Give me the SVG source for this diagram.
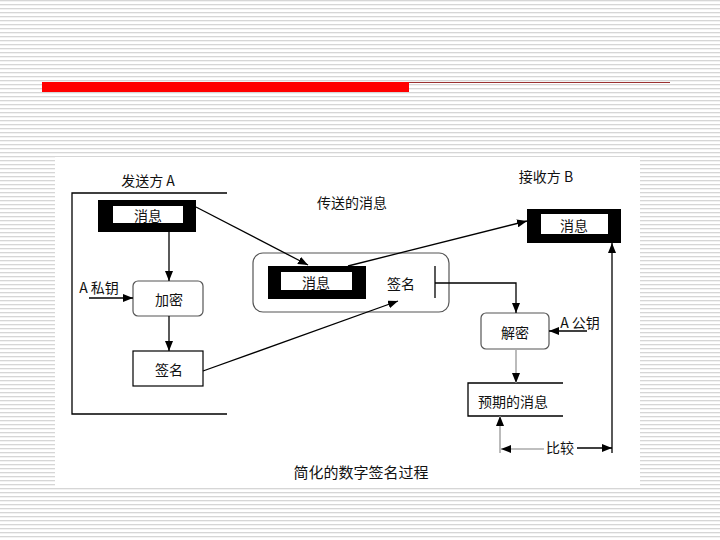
<svg xmlns="http://www.w3.org/2000/svg" width="720" height="540" viewBox="0 0 720 540">
<defs>
<pattern id="stripes" width="720" height="4" patternUnits="userSpaceOnUse">
<rect width="720" height="4" fill="#ffffff"/>
<rect width="720" height="1.3" fill="#d6d6d6"/>
</pattern>
<marker id="ah" markerWidth="10" markerHeight="8" refX="10" refY="4" orient="auto" markerUnits="userSpaceOnUse">
<path d="M0,0 L10,4 L0,8 Z" fill="#000"/>
</marker>
<style>
.t{font-family:"Noto Sans CJK SC","Liberation Sans",sans-serif;font-size:14px;fill:#111;text-anchor:middle;dominant-baseline:central}
.c{fill:none;stroke:#000;stroke-width:1.3}
.g{fill:none;stroke:#aaa;stroke-width:1.6}
.blk{fill:#000}
.wht{fill:#fff}
.rb{fill:#fff;stroke:#555;stroke-width:1.2}
.box{fill:#fff;stroke:#000;stroke-width:1.2}
</style>
</defs>
<rect width="720" height="540" fill="url(#stripes)"/>
<rect x="42" y="82" width="367" height="10" fill="#ff0000"/>
<line x1="409" y1="82.5" x2="670" y2="82.5" stroke="#9a3030" stroke-width="1"/>
<rect x="55" y="157" width="585" height="330" fill="#fff"/>

<g id="frameA">
<text class="t" x="148" y="180">发送方 A</text>
<polyline class="c" points="227,193 72,193 72,414 227,414"/>
</g>
<g id="msgA">
<rect class="blk" x="98" y="200" width="98" height="32"/>
<rect class="wht" x="113" y="206" width="70" height="17"/>
<text class="t" x="148" y="215">消息</text>
</g>
<g id="encrypt">
<rect class="rb" x="133" y="281" width="70" height="35" rx="5"/>
<text class="t" x="169" y="299">加密</text>
</g>
<g id="privkey">
<text class="t" x="99" y="287">A 私钥</text>
</g>
<g id="sig">
<rect class="box" x="133" y="351" width="70" height="35"/>
<text class="t" x="169" y="369">签名</text>
</g>

<g id="transmitted">
<text class="t" x="352" y="202">传送的消息</text>
<rect class="rb" x="253" y="253" width="196" height="59" rx="10"/>
<rect class="blk" x="268" y="266" width="98" height="33"/>
<rect class="wht" x="281" y="272" width="71" height="18"/>
<text class="t" x="316" y="282">消息</text>
<text class="t" x="401" y="283">签名</text>
<line class="c" x1="435" y1="266" x2="435" y2="298"/>
</g>

<g id="frameB">
<text class="t" x="546" y="176">接收方 B</text>
</g>
<g id="msgB">
<rect class="blk" x="527" y="209" width="94" height="34"/>
<rect class="wht" x="541" y="214" width="67" height="20"/>
<text class="t" x="574" y="225">消息</text>
</g>
<g id="decrypt">
<rect class="rb" x="481" y="313" width="68" height="36" rx="5"/>
<text class="t" x="515" y="332">解密</text>
</g>
<g id="pubkey">
<text class="t" x="580" y="322">A 公钥</text>
</g>
<g id="expected">
<polyline class="c" points="563,383 468,383 468,416 563,416"/>
<text class="t" x="513" y="401">预期的消息</text>
</g>
<g id="compare">
<text class="t" x="560" y="447">比较</text>
</g>
<g id="caption">
<text class="t" x="361" y="471" style="font-size:15px">简化的数字签名过程</text>
</g>

<g id="connectors">
<line class="c" x1="169" y1="232" x2="169" y2="281" marker-end="url(#ah)"/>
<line class="c" x1="169" y1="316" x2="169" y2="351" marker-end="url(#ah)"/>
<line class="c" x1="89" y1="298" x2="133" y2="298" marker-end="url(#ah)"/>
<line class="c" x1="196" y1="207" x2="308" y2="265" marker-end="url(#ah)"/>
<line class="c" x1="203" y1="371" x2="398" y2="301" marker-end="url(#ah)"/>
<line class="c" x1="348" y1="266" x2="527" y2="221" marker-end="url(#ah)"/>
<polyline class="c" points="435,283 516,283 516,313" marker-end="url(#ah)"/>
<line class="c" x1="587" y1="331" x2="549" y2="331" marker-end="url(#ah)"/>
<line class="g" x1="516" y1="349" x2="516" y2="383" marker-end="url(#ah)"/>
<line class="c" x1="612" y1="453" x2="612" y2="243" stroke-width="1.8" marker-end="url(#ah)"/>
<line class="c" x1="577" y1="448" x2="612" y2="448" marker-end="url(#ah)"/>
<line class="g" x1="544" y1="449" x2="501" y2="449" marker-end="url(#ah)"/>
<line class="g" x1="500" y1="453" x2="500" y2="416" marker-end="url(#ah)"/>
</g>
</svg>
